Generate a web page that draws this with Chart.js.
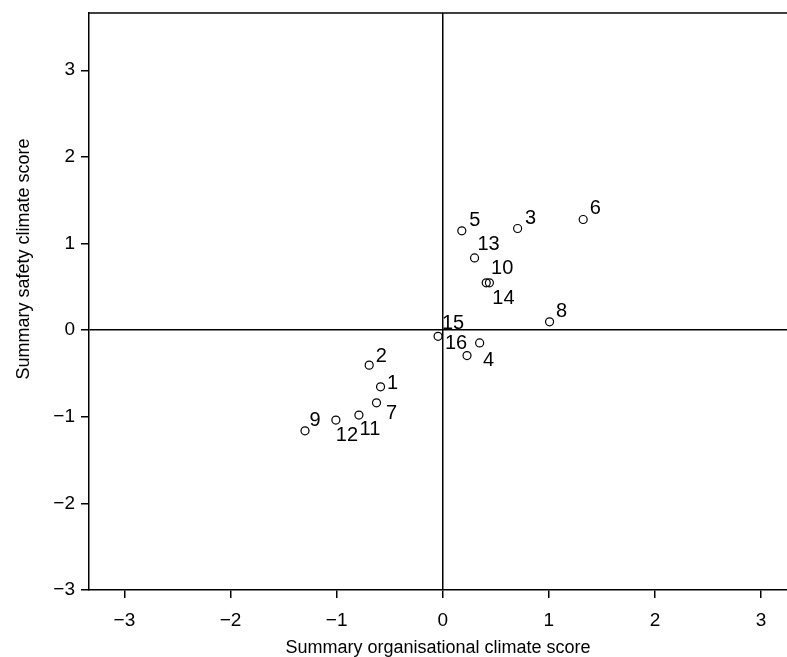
<!DOCTYPE html>
<html>
<head>
<meta charset="utf-8">
<script src="https://cdn.jsdelivr.net/npm/chart.js@4.4.1/dist/chart.umd.min.js"></script>
<style>
  html, body { margin: 0; padding: 0; background: #fff; }
</style>
</head>
<body>
<canvas id="myChart" width="787" height="657"></canvas>
<script>
// unit scores
const unitIds = ["1", "2", "3", "4", "5", "6", "7", "8", "9", "10", "11", "12", "13", "14", "15", "16"];
const orgScore = [-0.586, -0.693, 0.706, 0.348, 0.18, 1.324, -0.624, 1.007, -1.298, 0.41, -0.79, -1.007, 0.30, 0.44, -0.044, 0.229];
const safetyScore = [-0.654, -0.404, 1.173, -0.148, 1.146, 1.277, -0.839, 0.096, -1.162, 0.546, -0.981, -1.038, 0.834, 0.546, -0.072, -0.294];
const xTicks = [-3, -2, -1, 0, 1, 2, 3];
const yTicks = [-3, -2, -1, 0, 1, 2, 3];

// where each marker label sits, relative to its marker (px)
const labelOffsets = [
  [12, -4], [12, -10], [13, -11], [9, 17], [13, -11], [12, -12], [15, 10], [12, -11],
  [10, -11], [16, -15], [11, 13], [11, 14], [14, -14], [14, 15], [15, -14], [-11, -13],
];

const FONT = "'Liberation Sans', Arial, Helvetica, sans-serif";
const ink = "#000";

const fmt = (v) => (v < 0 ? "\u2212" + Math.abs(v) : String(v));
const zeroLine = (ctx) => (ctx.tick && ctx.tick.value === 0 ? ink : "rgba(0,0,0,0)");

const pointLabels = {
  id: "pointLabels",
  afterDatasetsDraw(chart) {
    const ctx = chart.ctx;
    const meta = chart.getDatasetMeta(0);
    ctx.save();
    ctx.fillStyle = ink;
    ctx.font = "20px " + FONT;
    ctx.textAlign = "center";
    ctx.textBaseline = "middle";
    meta.data.forEach((pt, i) => {
      const off = labelOffsets[i];
      ctx.fillText(unitIds[i], pt.x + off[0], pt.y + off[1] + 1);
    });
    ctx.restore();
  },
};

const frame = {
  id: "frame",
  afterDraw(chart) {
    const { ctx, chartArea } = chart;
    ctx.save();
    ctx.strokeStyle = ink;
    ctx.lineWidth = 1.5;
    ctx.beginPath();
    ctx.moveTo(chartArea.left, chartArea.top);
    ctx.lineTo(chartArea.right, chartArea.top);
    ctx.stroke();
    // y axis title
    ctx.fillStyle = ink;
    ctx.font = "18px " + FONT;
    ctx.textAlign = "center";
    ctx.textBaseline = "middle";
    ctx.translate(chartArea.left - 65, chartArea.top + 246);
    ctx.rotate(-Math.PI / 2);
    ctx.fillText("Summary safety climate score", 0, 0);
    ctx.restore();
  },
};

const chart = new Chart(document.getElementById("myChart"), {
  type: "scatter",
  data: {
    datasets: [
      {
        data: orgScore.map((x, i) => ({ x: x, y: safetyScore[i] })),
        pointStyle: "circle",
        pointRadius: 4,
        pointHoverRadius: 4,
        borderWidth: 1.2,
        borderColor: ink,
        backgroundColor: "rgba(255,255,255,0)",
      },
    ],
  },
  options: {
    responsive: false,
    animation: false,
    layout: { autoPadding: false, padding: { top: 13, right: 0, left: 0, bottom: 0 } },
    plugins: {
      legend: { display: false },
      tooltip: { enabled: false },
    },
    scales: {
      x: {
        type: "linear",
        min: -3.334,
        max: 3.245,
        afterBuildTicks: (s) => { s.ticks = xTicks.map((v) => ({ value: v })); },
        afterFit: (s) => { s.height = 67; s.paddingLeft = 0; s.paddingRight = 0; },
        ticks: {
          font: { family: FONT, size: 19 },
          color: ink,
          padding: 11,
          callback: fmt,
        },
        grid: { color: zeroLine, tickColor: ink, tickLength: 8, lineWidth: 1.5 },
        border: { display: true, color: ink, width: 1.5 },
        title: {
          display: true,
          text: "Summary organisational climate score",
          font: { family: FONT, size: 18 },
          color: ink,
          padding: { top: 0, bottom: -2 },
        },
      },
      y: {
        type: "linear",
        min: -3,
        max: 3.661,
        afterBuildTicks: (s) => { s.ticks = yTicks.map((v) => ({ value: v })); },
        afterFit: (s) => { s.width = 89; s.paddingTop = 0; s.paddingBottom = 0; },
        ticks: {
          font: { family: FONT, size: 19 },
          color: ink,
          padding: 6,
          callback: fmt,
        },
        grid: { color: zeroLine, tickColor: ink, tickLength: 8, lineWidth: 1.5 },
        border: { display: true, color: ink, width: 1.5 },
      },
    },
  },
  plugins: [pointLabels, frame],
});
</script>
</body>
</html>
